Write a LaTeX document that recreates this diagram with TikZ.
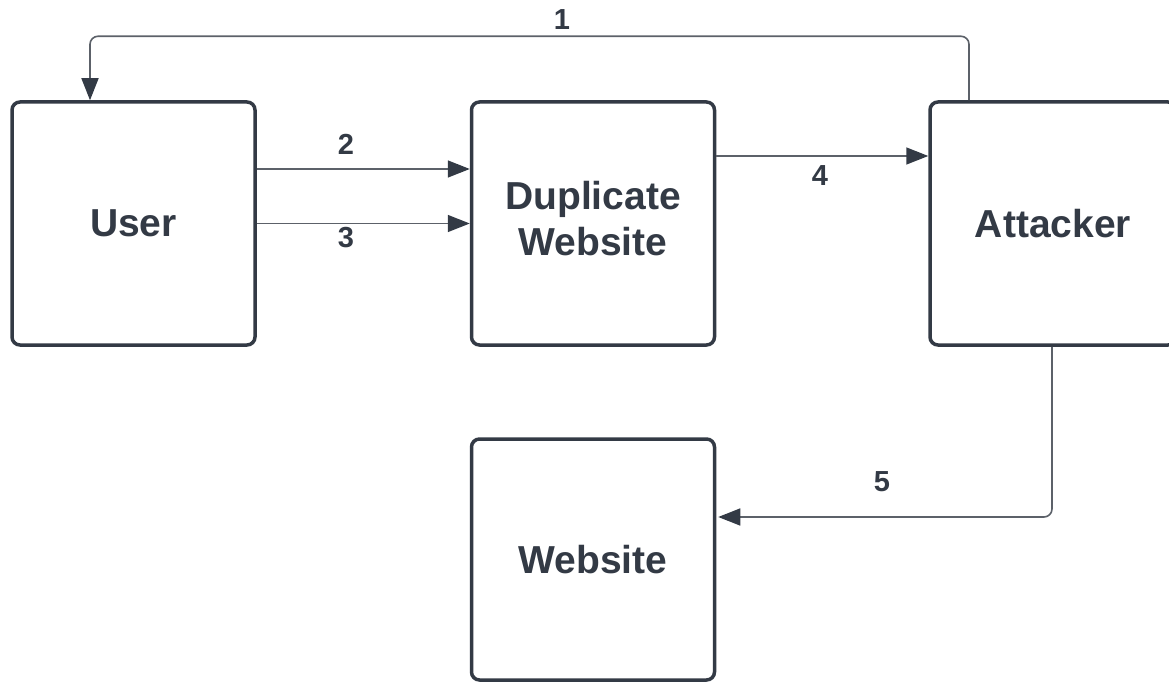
\documentclass[tikz,border=0pt]{standalone}
\usepackage{fontspec}
\setmainfont{Liberation Sans}
\usetikzlibrary{arrows.meta}
\definecolor{ink}{HTML}{333A45}
\definecolor{wire}{HTML}{5C6169}
\tikzset{
  box/.style={draw=ink, line width=3.5pt, rounded corners=8pt, fill=white,
    minimum width=243pt, minimum height=243pt, inner sep=0pt, align=center,
    text=ink, font=\fontsize{39}{46}\selectfont\bfseries},
  conn/.style={draw=wire, line width=1.6pt, rounded corners=8pt,
    -{Triangle[length=22pt, width=17pt, color=ink]}},
  lbl/.style={text=ink, font=\fontsize{29}{29}\selectfont\bfseries, inner sep=0pt}
}
\begin{document}
\begin{tikzpicture}[x=1pt, y=-1pt]
  \useasboundingbox (0,0) rectangle (1169,684);
  \begin{scope}
    \clip (0,0) rectangle (1169,684);
    \node[box] (user) at (133.5,223.5) {User};
    \node[box] (dup) at (593,223.5)
      {\raisebox{5pt}{\begin{tabular}{@{}c@{}}Duplicate\\Website\end{tabular}}};
    \node[box, minimum width=246pt] (att) at (1053,223.5) {Attacker};
    \node[box, minimum height=241pt] (web) at (593,559.5) {Website};

    % 1: attacker back to user over the top
    \draw[conn] ([xshift=-84pt]att.north) -- ++(0,-64) -| ([xshift=-43.5pt]user.north);
    % 2, 3: user to the duplicate site
    \draw[conn] ([yshift=54.5pt]user.east) -- ([yshift=54.5pt]dup.west);
    \draw[conn] (user.east) -- (dup.west);
    % 4: duplicate site to attacker
    \draw[conn] ([yshift=67.5pt]dup.east) -- ([yshift=67.5pt]att.west);
    % 5: attacker down to the real website
    \draw[conn, shorten >=2pt] ([xshift=-1pt]att.south) |- ([yshift=42.5pt]web.east);

    \node[lbl] (l1) at (562,20) {1};
    \node[lbl] (l2) at (346,144) {2};
    \node[lbl] (l3) at (346,238) {3};
    \node[lbl] (l4) at (820,176) {4};
    \node[lbl] (l5) at (882,482) {5};
  \end{scope}
\end{tikzpicture}
\end{document}
